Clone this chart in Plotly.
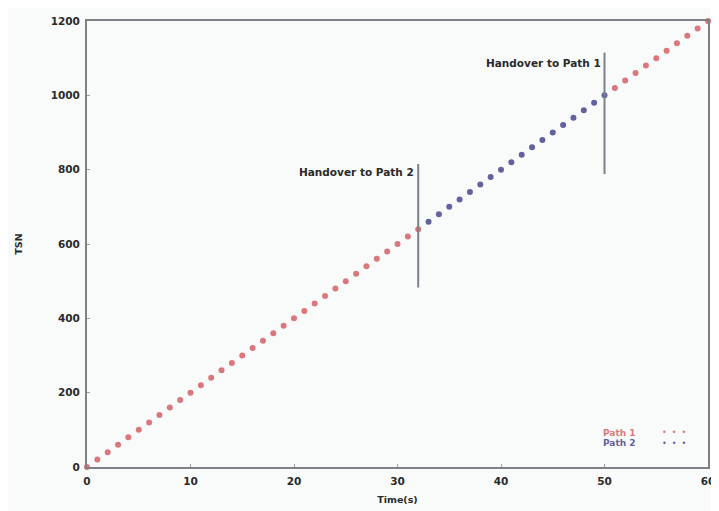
import plotly.graph_objects as go

# ---- data ----
path1_a_time = [0, 1, 2, 3, 4, 5, 6, 7, 8, 9, 10, 11, 12, 13, 14, 15, 16, 17, 18, 19,
                20, 21, 22, 23, 24, 25, 26, 27, 28, 29, 30, 31, 32]
path1_a_tsn = [0, 20, 40, 60, 80, 100, 120, 140, 160, 180, 200, 220, 240, 260, 280, 300,
               320, 340, 360, 380, 400, 420, 440, 460, 480, 500, 520, 540, 560, 580, 600,
               620, 640]
path2_time = [33, 34, 35, 36, 37, 38, 39, 40, 41, 42, 43, 44, 45, 46, 47, 48, 49, 50]
path2_tsn = [660, 680, 700, 720, 740, 760, 780, 800, 820, 840, 860, 880, 900, 920, 940,
             960, 980, 1000]
path1_b_time = [51, 52, 53, 54, 55, 56, 57, 58, 59, 60]
path1_b_tsn = [1020, 1040, 1060, 1080, 1100, 1120, 1140, 1160, 1180, 1200]

handover_labels = ["Handover to Path 2", "Handover to Path 1"]
handover_time = [32, 50]
handover_y0 = [483, 788]
handover_y1 = [815, 1115]
handover_text_y = [794, 1086]

x_ticks = [0, 10, 20, 30, 40, 50, 60]
y_ticks = [0, 200, 400, 600, 800, 1000, 1200]

RED = "#d9787c"
BLUE = "#62629e"
TXT = "#2a2a2a"
FONT = "DejaVu Sans"

fig = go.Figure()
fig.add_trace(go.Scatter(x=path1_a_time, y=path1_a_tsn, mode="markers", name="Path 1",
                         marker=dict(color=RED, size=6, symbol="circle"), showlegend=False,
                         cliponaxis=False))
fig.add_trace(go.Scatter(x=path2_time, y=path2_tsn, mode="markers", name="Path 2",
                         marker=dict(color=BLUE, size=6, symbol="circle"), showlegend=False))
fig.add_trace(go.Scatter(x=path1_b_time, y=path1_b_tsn, mode="markers", name="Path 1",
                         marker=dict(color=RED, size=6, symbol="circle"), showlegend=False,
                         cliponaxis=False))

for lbl, t, y0, y1, ty in zip(handover_labels, handover_time, handover_y0, handover_y1, handover_text_y):
    fig.add_shape(type="line", x0=t, x1=t, y0=y0, y1=y1, xref="x", yref="y",
                  line=dict(color="#7a7f88", width=2))
    fig.add_annotation(x=t, y=ty, xref="x", yref="y", text="<b>" + lbl + "</b>", showarrow=False,
                       xanchor="right", yanchor="middle", xshift=-2,
                       font=dict(family=FONT, size=10.5, color=TXT))

# legend (text left, sample right, like gnuplot)
legend_items = [("Path 1", RED, 0.077), ("Path 2", BLUE, 0.053)]
for name, col, py in legend_items:
    fig.add_annotation(x=0.887, y=py, xref="paper", yref="paper", text="<b>" + name + "</b>",
                       showarrow=False, xanchor="right", yanchor="middle",
                       font=dict(family=FONT, size=9, color=col))
    fig.add_annotation(x=0.922, y=py, xref="paper", yref="paper", text="\u2022  \u2022  \u2022",
                       showarrow=False, xanchor="left", yanchor="middle",
                       font=dict(family=FONT, size=8, color=col))

axis_common = dict(showgrid=False, zeroline=False, showline=True, mirror=True,
                   linecolor="#7d8085", linewidth=2, ticks="inside", ticklen=3,
                   tickcolor="#9a9da2", tickwidth=1, ticklabelstandoff=3,
                   tickfont=dict(family=FONT, size=10.5, color=TXT, weight="bold"))

fig.update_layout(
    width=719, height=511,
    margin=dict(l=79, r=19, t=7, b=52),
    paper_bgcolor="#f9fbfb", plot_bgcolor="#f9fbfb",
    showlegend=False,
    xaxis=dict(range=[0, 60], tickvals=x_ticks,
               title=dict(text="<b>Time(s)</b>", standoff=11,
                          font=dict(family=FONT, size=9.5, color=TXT)),
               **axis_common),
    yaxis=dict(range=[0, 1200], tickvals=y_ticks,
               title=dict(text="<b>TSN</b>", standoff=26,
                          font=dict(family=FONT, size=9.5, color=TXT)),
               **axis_common),
)

fig.write_html("out.html")
